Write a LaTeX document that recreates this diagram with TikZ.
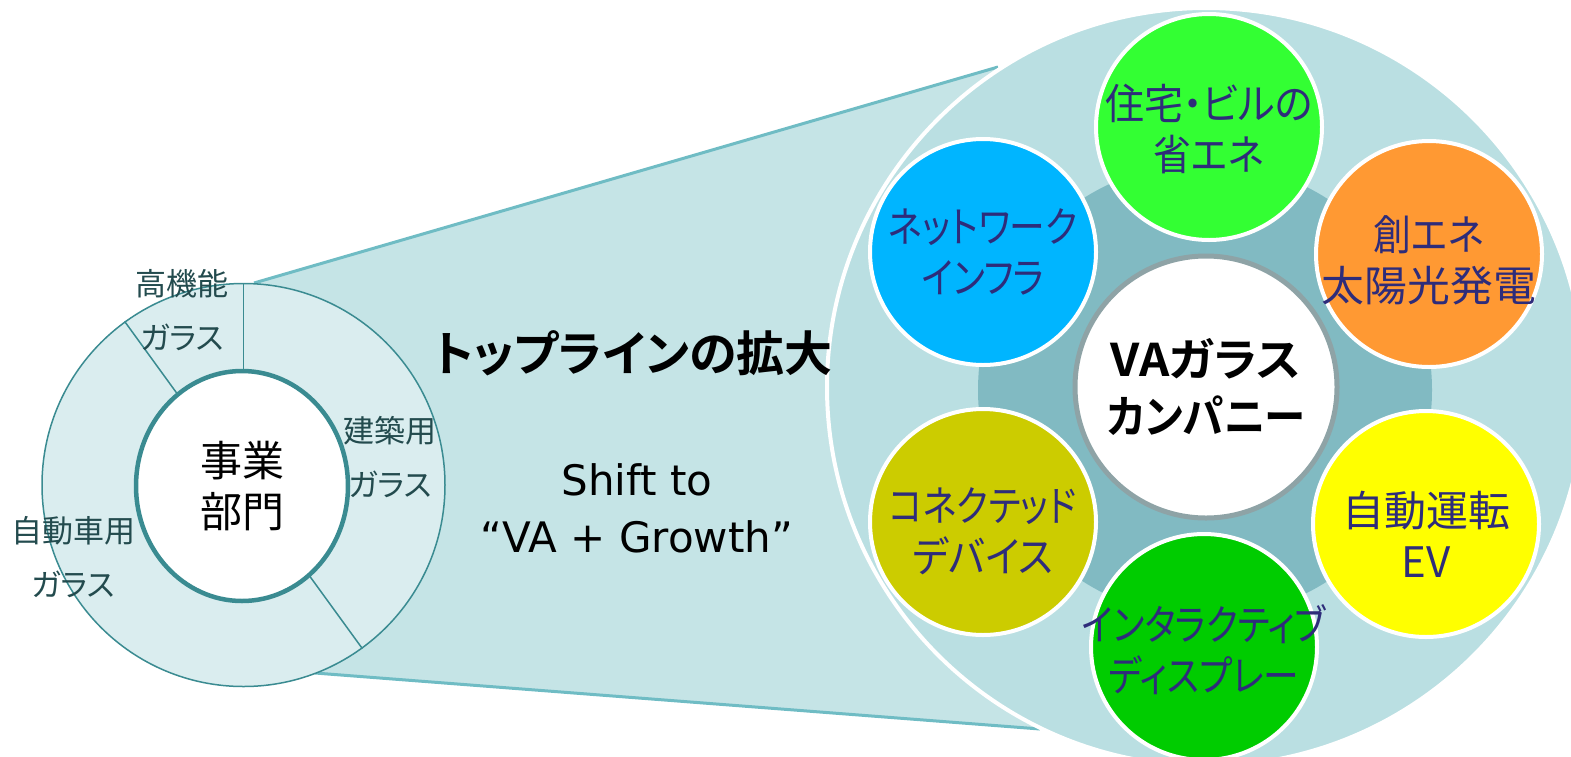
\documentclass[tikz,border=0pt]{standalone}
\usepackage{fontspec}
\usepackage{graphicx}
\usetikzlibrary{shapes.geometric}
\setmainfont{DejaVu Sans}
\newfontfamily\jp[BoldFont={Noto Sans CJK JP Bold},RawFeature=+palt]{Noto Sans CJK JP}
\newcommand{\hsq}[2]{\scalebox{#1}[1]{#2}}
\definecolor{trapfill}{RGB}{197,228,230}
\definecolor{trapline}{RGB}{111,188,196}
\definecolor{bigfill}{RGB}{186,223,226}
\definecolor{ringfill}{RGB}{129,186,194}
\definecolor{donutfill}{RGB}{218,237,239}
\definecolor{donutline}{RGB}{58,139,145}
\definecolor{centerline}{RGB}{142,163,166}
\definecolor{navytext}{RGB}{46,44,122}
\definecolor{labeltext}{RGB}{35,75,78}
\definecolor{cgreen}{RGB}{51,255,51}
\definecolor{corange}{RGB}{255,153,51}
\definecolor{cyellow}{RGB}{255,255,0}
\definecolor{cdgreen}{RGB}{0,204,0}
\definecolor{colive}{RGB}{204,204,0}
\definecolor{cblue}{RGB}{0,181,255}
\tikzset{
  smallc/.style={circle, draw=white, line width=4pt, minimum size=226pt, inner sep=0pt},
  clabel/.style={text=navytext, font=\jp\fontsize{42}{51}\selectfont, align=center, inner sep=0pt},
  seglabel/.style={text=labeltext, font=\jp\fontsize{31}{54}\selectfont, align=center, inner sep=0pt},
  divider/.style={draw=donutline, line width=1.5pt},
  trapedge/.style={draw=trapline, line width=3pt},
}
\begin{document}
\begin{tikzpicture}[x=1pt,y=-1pt]
\useasboundingbox (0,0) rectangle (1571,756);
\clip (0,0) rectangle (1571,756);
% trapezoid
\coordinate (t1) at (254,283);
\coordinate (t2) at (998,67);
\coordinate (b2) at (1040,729);
\coordinate (b1) at (315,673);
\fill[trapfill] (t1) -- (t2) -- (b2) -- (b1) -- cycle;
\draw[trapedge] (t1) -- (t2);
\draw[trapedge] (b1) -- (b2);
% big circle
\node[circle, fill=bigfill, draw=white, line width=4pt, minimum size=758pt, inner sep=0pt] (big) at (1206,387) {};
\node[circle, fill=ringfill, minimum size=454pt, inner sep=0pt] (ring) at (1205,390) {};
\node[circle, fill=white, draw=centerline, line width=5pt, minimum size=262pt, inner sep=0pt] (va) at (1206,387) {};
\node[font=\jp\bfseries\fontsize{45}{57}\selectfont, align=center, inner sep=0pt] (valabel) at (va.center) {\hsq{1.05}{VAガラス}\\\hsq{0.92}{カンパニー}};
% six circles
\node[smallc, fill=cgreen] (home) at (1209,127) {};
\node[smallc, fill=corange] (solar) at (1429,254) {};
\node[smallc, fill=cyellow] (ev) at (1426,524) {};
\node[smallc, fill=cdgreen] (disp) at (1204,647) {};
\node[smallc, fill=colive] (dev) at (983,522) {};
\node[smallc, fill=cblue] (net) at (983,252) {};
\node[clabel] (homel) at ([yshift=-2pt]home.center) {\hsq{0.93}{住宅・ビルの}\\\hsq{0.9}{省エネ}};
\node[clabel] (solarl) at ([yshift=-6pt]solar.center) {\hsq{0.9}{創エネ}\\\hsq{1.02}{太陽光発電}};
\node[clabel] (evl) at ([yshift=-10pt]ev.center) {自動運転\\EV};
\node[clabel] (displ) at ([yshift=-3pt]disp.center) {\hsq{0.84}{インタラクティブ}\\\hsq{0.85}{ディスプレー}};
\node[clabel] (devl) at ([yshift=-9pt]dev.center) {\hsq{0.84}{コネクテッド}\\\hsq{0.92}{デバイス}};
\node[clabel] (netl) at (net.center) {\hsq{0.85}{ネットワーク}\\\hsq{0.85}{インフラ}};
% donut
\node[circle, fill=donutfill, draw=donutline, line width=1.5pt, minimum size=403pt, inner sep=0pt] (donut) at (243.5,485) {};
\draw[divider] (donut.center) -- (donut.90);
\draw[divider] (donut.126) -- (donut.-54);
\node[ellipse, fill=white, draw=donutline, line width=4.5pt, minimum width=212pt, minimum height=230pt, inner sep=0pt,
  font=\jp\fontsize{42}{51}\selectfont, align=center] (dept) at (242,486) {事業\\部門};
% segment labels
\node[seglabel] (l1) at (182,310) {高機能\\ガラス};
\node[seglabel] (l2) at (390,457) {建築用\\ガラス};
\node[seglabel] (l3) at (73,557) {自動車用\\ガラス};
% middle texts
\node[font=\jp\bfseries\fontsize{48}{50}\selectfont, inner sep=0pt] (top) at (633,353) {トップラインの拡大};
\node[font=\fontsize{42}{57}\selectfont, align=center, inner sep=0pt] (shift) at (637,508) {Shift to\\“VA + Growth”};
\end{tikzpicture}
\end{document}
